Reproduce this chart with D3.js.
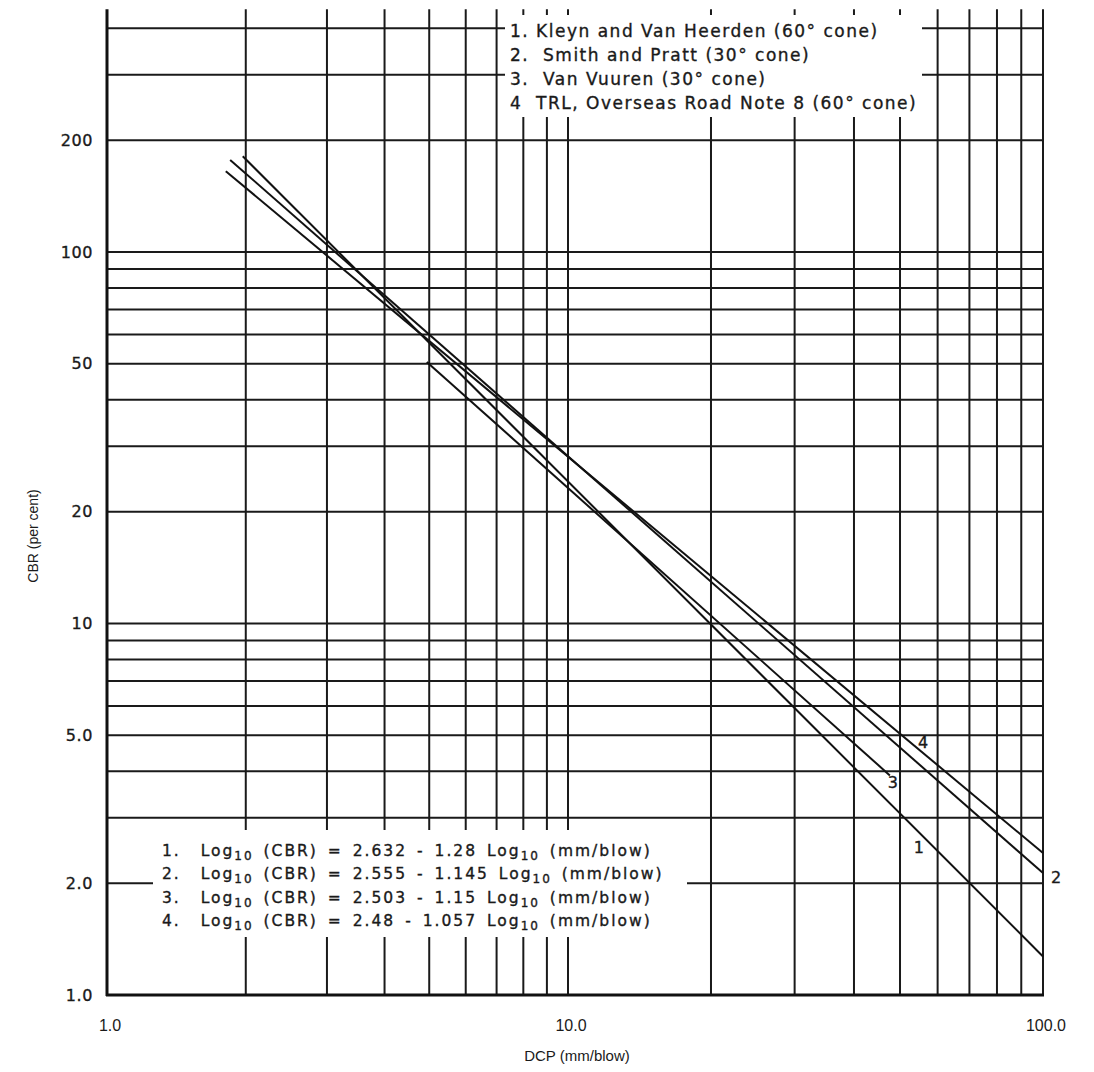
<!DOCTYPE html>
<html>
<head>
<meta charset="utf-8">
<script src="https://cdn.jsdelivr.net/npm/d3@7"></script>
<style>
  body { margin: 0; background: #fff; }
  svg { display: block; }
  text { font-family: "DejaVu Sans", "Liberation Sans", sans-serif; fill: #1a1a1a; }
  .heavy { stroke: #1a1a1a; stroke-width: 0.35px; }
  .narrow { font-family: "Liberation Sans", Arimo, sans-serif; }
</style>
</head>
<body>
<svg id="chart" width="1094" height="1072"></svg>
<script>
// grid values (log-log paper)
const xGrid = [2, 3, 4, 5, 6, 7, 8, 9, 10, 20, 30, 40, 50, 60, 70, 80, 90, 100];
const yGrid = [2, 3, 4, 5, 6, 7, 8, 9, 10, 20, 30, 40, 50, 60, 70, 80, 90, 100, 200, 300, 400];
const xTickLabels = [[1, '1.0'], [10, '10.0'], [100, '100.0']];
const yTickLabels = [[1, '1.0'], [2, '2.0'], [5, '5.0'], [10, '10'], [20, '20'], [50, '50'], [100, '100'], [200, '200']];

// correlation lines: [DCP, CBR] at start and end
const lineIds = ['1', '2', '3', '4'];
const lineStart = [[1.97, 181], [1.85, 177], [4.94, 50.6], [1.81, 165]];
const lineEnd = [[100, 1.27], [100, 2.13], [47.6, 3.9], [100, 2.41]];
// where each line number is written
const lineLabelPos = [[54.8, 2.49], [106.5, 2.07], [48.3, 3.74], [55.9, 4.8]];

const legendItems = [
  '1. Kleyn and Van Heerden (60\u00b0 cone)',
  '2.  Smith and Pratt (30\u00b0 cone)',
  '3.  Van Vuuren (30\u00b0 cone)',
  '4  TRL, Overseas Road Note 8 (60\u00b0 cone)'
];
const eqA = ['2.632', '2.555', '2.503', '2.48'];
const eqB = ['1.28', '1.145', '1.15', '1.057'];

const yTop = 450;

const svg = d3.select('#chart');

const x = d3.scaleLog().domain([1, 10, 100]).range([107, 568, 1043]);
const y = d3.scaleLog().domain([1, 100]).range([995, 252]);

const grid = svg.append('g').attr('stroke', '#1a1a1a').attr('stroke-width', 2);

// vertical grid lines
grid.selectAll('.vx')
  .data(xGrid)
  .enter()
  .append('line')
  .attr('x1', (d) => x(d))
  .attr('x2', (d) => x(d))
  .attr('y1', y(1))
  .attr('y2', y(yTop));

// horizontal grid lines
grid.selectAll('.hy')
  .data(yGrid)
  .enter()
  .append('line')
  .attr('x1', x(1))
  .attr('x2', x(100))
  .attr('y1', (d) => y(d))
  .attr('y2', (d) => y(d));

// axes (heavier)
svg.append('line')
  .attr('x1', x(1)).attr('x2', x(1))
  .attr('y1', y(1) + 1).attr('y2', y(yTop))
  .attr('stroke', '#111').attr('stroke-width', 3);
svg.append('line')
  .attr('x1', x(1) - 1).attr('x2', x(100) + 1)
  .attr('y1', y(1)).attr('y2', y(1))
  .attr('stroke', '#111').attr('stroke-width', 3);

// the four lines
const lines = lineIds.map((id, i) => ({ id: id, pts: [lineStart[i], lineEnd[i]] }));
const lineGen = d3.line().x((d) => x(d[0])).y((d) => y(d[1]));

svg.append('g')
  .selectAll('path')
  .data(lines)
  .enter()
  .append('path')
  .attr('d', (d) => lineGen(d.pts))
  .attr('fill', 'none')
  .attr('stroke', '#111')
  .attr('stroke-width', 2);

svg.append('g')
  .selectAll('text')
  .data(lineIds)
  .enter()
  .append('text')
  .attr('class', 'heavy')
  .attr('x', (d, i) => x(lineLabelPos[i][0]))
  .attr('y', (d, i) => y(lineLabelPos[i][1]))
  .attr('dy', '0.35em')
  .attr('text-anchor', 'middle')
  .attr('font-size', 16)
  .text((d) => d);

// legend box (masks the grid)
const legend = svg.append('g');
legend.append('rect')
  .attr('x', 505).attr('y', 15)
  .attr('width', 417).attr('height', 102)
  .attr('fill', '#fff');
legend.selectAll('text')
  .data(legendItems)
  .enter()
  .append('text')
  .attr('class', 'heavy')
  .attr('x', 510)
  .attr('y', (d, i) => 37 + i * 24)
  .attr('font-size', 17)
  .attr('letter-spacing', 1.5)
  .attr('xml:space', 'preserve')
  .text((d) => d);

// equation box
const eq = svg.append('g');
eq.append('rect')
  .attr('x', 153).attr('y', 830)
  .attr('width', 534).attr('height', 107)
  .attr('fill', '#fff');

const eqText = eq.selectAll('text')
  .data(eqA)
  .enter()
  .append('text')
  .attr('class', 'heavy')
  .attr('x', 162)
  .attr('y', (d, i) => 856 + i * 23.3)
  .attr('font-size', 15.5)
  .attr('letter-spacing', 2)
  .attr('word-spacing', 3)
  .attr('xml:space', 'preserve');

eqText.append('tspan').text((d, i) => `${i + 1}.  Log`);
eqText.append('tspan').attr('font-size', 12).attr('dy', 4).text('10');
eqText.append('tspan').attr('dy', -4).text((d, i) => ` (CBR) = ${eqA[i]} - ${eqB[i]} Log`);
eqText.append('tspan').attr('font-size', 12).attr('dy', 4).text('10');
eqText.append('tspan').attr('dy', -4).text(' (mm/blow)');

// tick labels
svg.append('g')
  .selectAll('text')
  .data(yTickLabels)
  .enter()
  .append('text')
  .attr('class', 'heavy')
  .attr('x', 93)
  .attr('y', (d) => y(d[0]))
  .attr('dy', '0.35em')
  .attr('text-anchor', 'end')
  .attr('font-size', 16)
  .attr('letter-spacing', 0.6)
  .text((d) => d[1]);

svg.append('g')
  .selectAll('text')
  .data(xTickLabels)
  .enter()
  .append('text')
  .attr('class', 'narrow')
  .attr('x', (d) => x(d[0]) + 3)
  .attr('y', 1025)
  .attr('dy', '0.35em')
  .attr('text-anchor', 'middle')
  .attr('font-size', 16)
  .text((d) => d[1]);

// axis titles
svg.append('text')
  .attr('class', 'narrow')
  .attr('x', 577)
  .attr('y', 1056)
  .attr('dy', '0.35em')
  .attr('text-anchor', 'middle')
  .attr('font-size', 15)
  .text('DCP (mm/blow)');

svg.append('text')
  .attr('class', 'narrow')
  .attr('transform', 'translate(33,536) rotate(-90)')
  .attr('dy', '0.35em')
  .attr('text-anchor', 'middle')
  .attr('font-size', 14)
  .text('CBR (per cent)');
</script>
</body>
</html>
